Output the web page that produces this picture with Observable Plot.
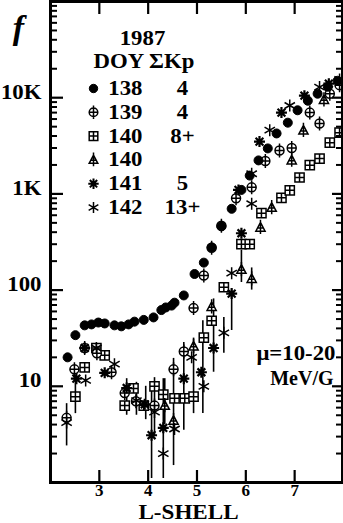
<!DOCTYPE html>
<html><head><meta charset="utf-8">
<script src="https://cdn.jsdelivr.net/npm/d3@7"></script>
<script src="https://cdn.jsdelivr.net/npm/@observablehq/plot@0.6"></script>
<style>
html,body{margin:0;padding:0;background:#fff;}
#chart svg{display:block;}
</style></head><body><div id="chart"></div>
<script>
// ---- data ----
const L138 = [2.35, 2.51, 2.70, 2.84, 2.98, 3.11, 3.31, 3.45, 3.60, 3.72, 3.91, 4.11, 4.27, 4.36, 4.48, 4.54, 4.73, 4.95, 5.14, 5.30, 5.50, 5.71, 5.91, 6.08, 6.26, 6.45, 6.63, 6.86, 7.06, 7.27, 7.47, 7.68, 7.88];
const f138 = [20, 34, 43, 44, 46, 45, 43, 42, 44, 47, 49, 52, 62, 66, 69, 74, 88, 147, 193, 278, 460, 700, 1100, 1550, 2230, 2970, 4250, 5500, 7400, 9300, 11000, 13000, 15000];

const L139 = [2.33, 2.49, 2.70, 2.95, 3.25, 3.52, 3.75, 4.13, 4.52, 4.73, 4.93, 5.14, 5.30, 5.50, 5.80, 6.12, 6.40, 6.69, 6.94, 7.31, 7.51, 7.72, 7.92];
const f139 = [4.7, 15, 25, 22, 14, 8.5, 7, 6.3, 15, 23, 65, 142, 275, 466, 900, 1170, 2200, 2830, 3000, 7000, 5400, 11000, 13500];

const L140 = [2.51, 2.70, 2.94, 3.11, 3.52, 3.70, 3.91, 4.13, 4.31, 4.54, 4.75, 4.93, 5.14, 5.30, 5.55, 5.91, 6.08, 6.32, 6.73, 6.90, 7.10, 7.31, 7.51, 7.72, 7.92];
const f140 = [7.8, 15.7, 25, 21, 6.3, 9.5, 6.3, 10, 8.2, 7.5, 7.5, 7.8, 32, 48, 107, 300, 300, 630, 910, 1090, 1480, 1990, 2330, 3410, 4330];

const L140b = [4.34, 4.52, 4.93, 5.30, 5.91, 6.12, 6.30, 6.53, 6.94, 7.18, 7.60];
const f140b = [6.3, 4.4, 26, 67, 163, 131, 448, 720, 2240, 4570, 9500];

const L141 = [2.53, 2.70, 3.11, 3.56, 3.93, 4.07, 4.31, 4.73, 5.09, 5.34, 5.71, 5.91, 5.85, 6.28, 6.73, 7.20, 7.70];
const f141 = [12, 25, 13.8, 9.6, 6.5, 3.1, 3.7, 12, 14, 25, 92, 390, 1100, 3500, 7000, 10500, 14000];

const L142 = [2.33, 2.72, 2.94, 3.31, 3.76, 4.13, 4.31, 4.54, 4.89, 5.14, 5.55, 5.71, 6.12, 6.12, 6.49, 6.90, 7.51, 7.92];
const f142 = [4.2, 11.5, 25, 17, 7.1, 5.4, 2.0, 3.6, 20, 10, 36, 150, 790, 1620, 4600, 8300, 12900, 15500];

const errL  = [2.33, 2.51, 3.56, 3.76, 3.95, 4.07, 4.13, 4.31, 4.34, 4.52, 4.73, 4.93, 5.12, 5.34, 5.55, 5.71, 5.91, 6.12];
const errLo = [2.4, 5.2, 5, 5, 4.5, 1.1, 3, 1.1, 4, 1.5, 3.5, 5.2, 5.2, 14, 22, 38, 120, 100];
const errHi = [6.6, 13, 12, 11, 10, 11, 12.3, 12, 12, 19.5, 28.5, 31.7, 48, 81, 52, 100, 260, 170];

const xTicks = [3, 4, 5, 6, 7];
const xTickText = ["3", "4", "5", "6", "7"];
const yMajor = [1, 10, 100, 1000, 10000, 100000];
const yMinor = [2,3,4,5,6,7,8,9, 20,30,40,50,60,70,80,90, 200,300,400,500,600,700,800,900,
                2000,3000,4000,5000,6000,7000,8000,9000, 20000,30000,40000,50000,60000,70000,80000,90000];
const yLabelVals = [10, 100, 1000, 10000];
const yLabelText = ["10", "100", "1K", "10K"];

const legendYear = "1987";
const legendHead = "DOY ΣKp";
const legendDOY = ["138", "139", "140", "140", "141", "142"];
const legendKp = ["4", "4", "8+", "", "5", "13+"];

// ---- helpers ----
const rows = (L, f) => L.map((l, i) => ({L: l, f: f[i]}));
const sym = fn => ({draw(c, size) { fn(c, Math.sqrt(size / Math.PI)); }});
const circlePlus = sym((c, r) => {
  c.moveTo(r, 0); c.arc(0, 0, r, 0, 2 * Math.PI); c.closePath();
  c.moveTo(0, -r - 2.5); c.lineTo(0, r + 2.5);
  c.moveTo(-r, 0); c.lineTo(r, 0);
});
const squarePlus = sym((c, r) => {
  c.rect(-r, -r, 2 * r, 2 * r);
  c.moveTo(0, -r); c.lineTo(0, r);
  c.moveTo(-r, 0); c.lineTo(r, 0);
});
const triVert = sym((c, r) => {
  c.moveTo(0, -r * 1.1); c.lineTo(r, r * 0.8); c.lineTo(-r, r * 0.8); c.closePath();
  c.moveTo(0, -r - 3); c.lineTo(0, r + 2);
  c.moveTo(-r * 0.55, r * 0.1); c.lineTo(r * 0.55, r * 0.1);
});
const star8 = sym((c, r) => {
  for (let k = 0; k < 4; k++) {
    const a = k * Math.PI / 4;
    c.moveTo(-r * Math.cos(a), -r * Math.sin(a)); c.lineTo(r * Math.cos(a), r * Math.sin(a));
  }
});
const star6 = sym((c, r) => {
  for (let k = 0; k < 3; k++) {
    const a = Math.PI / 2 + k * Math.PI / 3;
    c.moveTo(-r * Math.cos(a), -r * Math.sin(a)); c.lineTo(r * Math.cos(a), r * Math.sin(a));
  }
});

const W = 343, H = 523;
const mL = 50, mR = 1, mT = 1, mB = 41;
const pw = W - mL - mR, ph = H - mT - mB;
const FONT = "'Liberation Serif', 'Times New Roman', serif";

const series = [
  {data: rows(L140, f140), symbol: squarePlus, r: 4.6, fill: "white", stroke: "black", sw: 1.5},
  {data: rows(L140b, f140b), symbol: triVert, r: 4.6, fill: "white", stroke: "black", sw: 1.5},
  {data: rows(L139, f139), symbol: circlePlus, r: 4.5, fill: "white", stroke: "black", sw: 1.5},
  {data: rows(L142, f142), symbol: star6, r: 6, fill: "none", stroke: "black", sw: 1.5},
  {data: rows(L141, f141), symbol: star8, r: 5.5, fill: "none", stroke: "black", sw: 2.2},
  {data: rows(L138, f138), symbol: "circle", r: 4.5, fill: "black", stroke: "black", sw: 1}
];
const legendSyms = [
  {symbol: "circle", r: 4.2, fill: "black", stroke: "black", sw: 1},
  {symbol: circlePlus, r: 4.3, fill: "white", stroke: "black", sw: 1.5},
  {symbol: squarePlus, r: 4.3, fill: "white", stroke: "black", sw: 1.5},
  {symbol: triVert, r: 4.3, fill: "white", stroke: "black", sw: 1.5},
  {symbol: star8, r: 5.2, fill: "none", stroke: "black", sw: 2},
  {symbol: star6, r: 5.6, fill: "none", stroke: "black", sw: 1.5}
];

// text placed at a pixel offset from the frame's top-left corner (centre of the line at cy)
const label = (t, x, cy, o = {}) => Plot.text([t], {
  x: null, y: null, text: d => d, frameAnchor: "top-left", lineAnchor: "middle",
  dx: x - mL, dy: cy - mT, fontSize: 20, fontWeight: "bold", ...o
});

const legendMarks = [
  label(legendYear, 142, 38.5, {textAnchor: "middle", className: "stretch"}),
  label(legendHead, 93, 61, {textAnchor: "start", className: "stretch"})
];
legendDOY.forEach((t, i) => {
  const cy = 88 + i * 23.8;
  const s = legendSyms[i];
  legendMarks.push(Plot.dot([t], {x: null, y: null, frameAnchor: "top-left", dx: 93 - mL, dy: cy - mT, symbol: s.symbol, r: s.r, fill: s.fill, stroke: s.stroke, strokeWidth: s.sw}));
  legendMarks.push(label(t, 142, cy, {textAnchor: "end", className: "stretch"}));
  if (legendKp[i]) legendMarks.push(label(legendKp[i], 182, cy, {textAnchor: "middle", className: "stretch"}));
});

const plot = Plot.plot({
  width: W, height: H,
  marginLeft: mL, marginRight: mR, marginTop: mT, marginBottom: mB,
  style: {fontFamily: FONT, background: "white", color: "black", overflow: "visible"},
  x: {domain: [2, 7.98], axis: null},
  y: {type: "log", domain: [1, 100000], axis: null},
  marks: [
    // error bars
    Plot.ruleX(errL.map((l, i) => ({L: l, lo: errLo[i], hi: errHi[i]})), {x: "L", y1: "lo", y2: "hi", stroke: "black", strokeWidth: 1.6}),
    // data
    ...series.map(s => Plot.dot(s.data, {x: "L", y: "f", symbol: s.symbol, r: s.r, fill: s.fill, stroke: s.stroke, strokeWidth: s.sw})),
    // ticks (inward)
    Plot.tickY(yMajor, {y: d => d, insetRight: pw - 13, strokeWidth: 2.2}),
    Plot.tickY(yMinor, {y: d => d, insetRight: pw - 7, strokeWidth: 2}),
    Plot.tickY(yMajor, {y: d => d, insetLeft: pw - 10, strokeWidth: 2.2}),
    Plot.tickY(yMinor, {y: d => d, insetLeft: pw - 6, strokeWidth: 2}),
    Plot.tickX(xTicks, {x: d => d, insetTop: ph - 12, strokeWidth: 2.2}),
    Plot.tickX(xTicks, {x: d => d, insetBottom: ph - 13, strokeWidth: 2.2}),
    Plot.frame({stroke: "black", strokeWidth: 3}),
    // tick labels
    Plot.text(yLabelVals, {y: d => d, text: (d, i) => yLabelText[i], frameAnchor: "left", lineAnchor: "middle", textAnchor: "end", dx: -9, dy: -5.5, fontSize: 20, fontWeight: "bold", className: "stretch"}),
    Plot.text(xTicks, {x: d => d, text: (d, i) => xTickText[i], frameAnchor: "bottom", lineAnchor: "middle", textAnchor: "middle", dy: 8.5, fontSize: 17, fontWeight: "bold"}),
    Plot.text(["L-SHELL"], {x: null, y: null, text: d => d, frameAnchor: "bottom", lineAnchor: "middle", dx: -8, dy: 29.8, fontSize: 21, fontWeight: "bold", className: "stretch-lite"}),
    label("f", 18, 28, {textAnchor: "middle", fontSize: 34, fontStyle: "italic"}),
    // annotation
    label("μ=10-20", 335, 353, {textAnchor: "end", className: "stretch"}),
    label("MeV/G", 333, 378, {textAnchor: "end"}),
    ...legendMarks
  ]
});

// horizontal stretch of some labels (the original lettering is wide)
const stretch = (sel, k) => d3.select(plot).selectAll(sel).each(function() {
  const t = this.getAttribute("transform") || "";
  this.setAttribute("transform", t + ` scale(${k},1)`);
});
stretch(".stretch text", 1.14);
stretch(".stretch-lite text", 1.1);
document.getElementById("chart").appendChild(plot);
</script>
</body></html>
